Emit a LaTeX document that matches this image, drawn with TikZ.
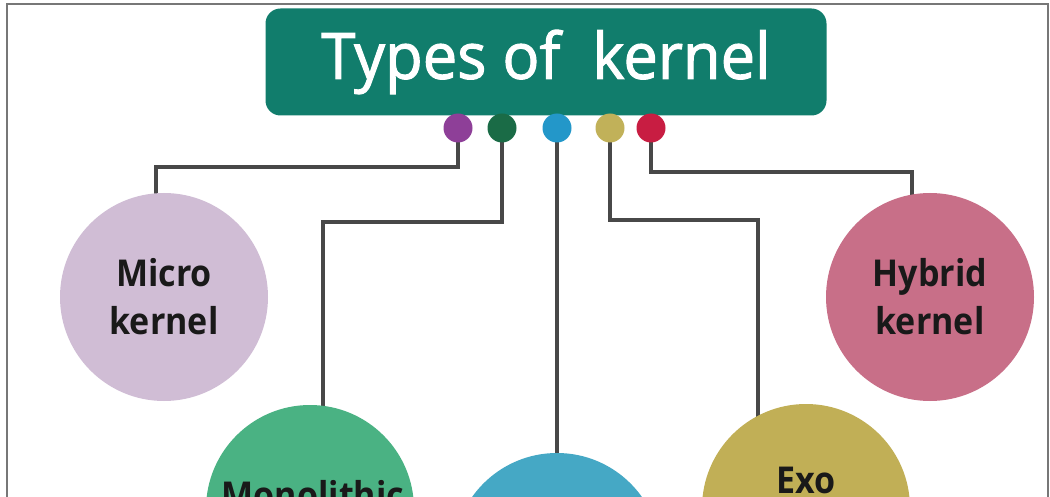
\documentclass[tikz,border=0pt]{standalone}
\usepackage{fontspec}
\setmainfont{Open Sans}
\newfontfamily\titlefont[FakeStretch=0.96, FakeBold=1.6]{Open Sans}
\newfontfamily\bubblefont[FakeStretch=0.92]{Open Sans}
\usetikzlibrary{backgrounds}
\definecolor{titleteal}{HTML}{117D6C}
\definecolor{dpurple}{HTML}{8E3F98}
\definecolor{dgreen}{HTML}{1A6B46}
\definecolor{dblue}{HTML}{2397C9}
\definecolor{dgold}{HTML}{C1B159}
\definecolor{dred}{HTML}{C81D42}
\definecolor{cmicro}{HTML}{D0BDD5}
\definecolor{chybrid}{HTML}{C86F88}
\definecolor{cmono}{HTML}{4AB283}
\definecolor{cnano}{HTML}{45A8C5}
\definecolor{cexo}{HTML}{C1AF56}
\definecolor{linegray}{HTML}{484848}
\definecolor{framegray}{HTML}{777777}
\tikzset{
  frame/.style={draw=framegray, line width=2.6pt},
  titlebox/.style={fill=titleteal, rounded corners=15pt, minimum width=561pt, minimum height=107pt, inner sep=0pt, text=white, font=\titlefont\fontsize{64}{70}\selectfont},
  dot/.style={circle, minimum size=29pt, inner sep=0pt},
  bubble/.style={circle, minimum size=208pt, inner sep=0pt},
  bubbletext/.style={align=center, text=black!90, font=\bubblefont\bfseries\fontsize{37}{48}\selectfont, inner sep=0pt},
  conn/.style={draw=linegray, line width=4pt}
}
\begin{document}
\begin{tikzpicture}[x=1pt,y=-1pt]
\useasboundingbox (0,0) rectangle (1050,497);
\clip (0,0) rectangle (1050,497);
\draw[frame] (7,4) rectangle (1048,640);

\node[titlebox] (title) at (546,62) {Types of\ \ kernel};

\node[dot, fill=dpurple] (d1) at (458,128) {};
\node[dot, fill=dgreen]  (d2) at (502,128) {};
\node[dot, fill=dblue]   (d3) at (557,128) {};
\node[dot, fill=dgold]   (d4) at (610,128) {};
\node[dot, fill=dred]    (d5) at (651,128) {};

\node[bubble, fill=cmicro]  (micro)  at (164,297) {};
\node[bubble, fill=chybrid] (hybrid) at (930,297) {};
\node[bubble, fill=cmono]   (mono)   at (310,509) {};
\node[bubble, fill=cnano]   (nano)   at (557,557) {};
\node[bubble, fill=cexo]    (exo)    at (806,508) {};

\node[bubbletext] (microtxt)  at (164,297) {Micro\\kernel};
\node[bubbletext] (hybridtxt) at (930,297) {Hybrid\\kernel};
\node[bubbletext] (monotxt)   at (313,519) {Monolithic\\kernel};
\node[bubbletext] (exotxt)    at (806,504) {Exo\\kernel};

\coordinate (k1) at (156,167);
\coordinate (k2) at (323,222);
\coordinate (k4) at (758,220);
\coordinate (k5) at (912,172);

\begin{scope}[on background layer]
\draw[conn] (d1.center) |- (k1) -- (k1 |- micro.center);
\draw[conn] (d2.center) |- (k2) -- (k2 |- mono.center);
\draw[conn] (d3.center) -- (nano.center);
\draw[conn] (d4.center) |- (k4) -- (k4 |- exo.center);
\draw[conn] (d5.center) |- (k5) -- (k5 |- hybrid.center);
\end{scope}
\end{tikzpicture}
\end{document}
